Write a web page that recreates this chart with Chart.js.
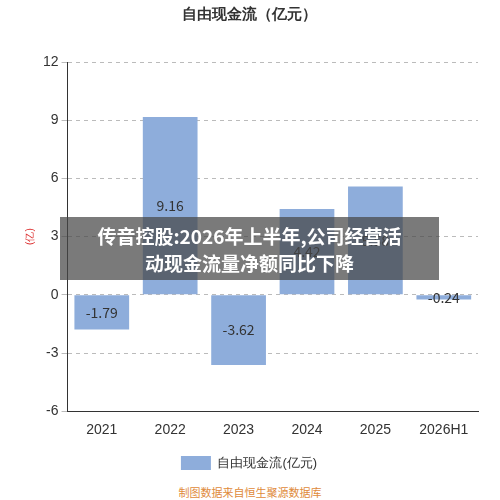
<!DOCTYPE html>
<html><head><meta charset="utf-8">
<script src="https://cdn.jsdelivr.net/npm/chart.js@4"></script>
<style>
body{margin:0;width:500px;height:500px;position:relative;font-family:"Noto Sans CJK SC",sans-serif;background:#fff}
#wrap{position:absolute;left:0;top:0;width:500px;height:480px}
#banner{position:absolute;left:60px;top:217px;width:379px;height:63px;background:rgba(70,70,70,0.72);color:#fff;font-weight:bold;font-size:19px;line-height:27px;text-align:center;padding-top:5px;box-sizing:border-box}
#src{position:absolute;left:0;width:500px;top:484px;text-align:center;font-size:11px;color:#e08a3a}
</style></head><body>
<div id="wrap"><canvas id="c" width="500" height="480"></canvas></div>
<div id="banner">传音控股:2026年上半年,公司经营活<br>动现金流量净额同比下降</div>
<div id="src">制图数据来自恒生聚源数据库</div>
<script>
let labels=['2021','2022','2023','2024','2025','2026H1'];
let values=[-1.79,9.16,-3.62,4.42,5.58,-0.24];
let ticks=[-6,-3,0,3,6,9,12];

const valueLabels={id:'vl',afterDatasetsDraw(chart){
  const ctx=chart.ctx;
  chart.getDatasetMeta(0).data.forEach((b,i)=>{
    ctx.save();ctx.font='14px "Noto Sans CJK SC"';ctx.fillStyle='#333';ctx.textAlign='center';ctx.textBaseline='middle';
    ctx.fillText(values[i].toFixed(2),b.x,(b.y+b.base)/2);ctx.restore();
  });
}};

new Chart(document.getElementById('c'),{
  type:'bar',
  data:{labels:labels,datasets:[{label:'自由现金流(亿元)',data:values,backgroundColor:'#8eaddb',barPercentage:0.8,categoryPercentage:1}]},
  options:{
    responsive:false,animation:false,devicePixelRatio:1,
    layout:{padding:{left:20,right:22,top:0,bottom:0}},
    plugins:{
      title:{display:true,text:'自由现金流（亿元）',font:{size:15,weight:'bold'},color:'#333',padding:{top:6,bottom:38}},
      legend:{position:'bottom',labels:{boxWidth:30,boxHeight:14,font:{size:13},color:'#333',padding:14}}
    },
    scales:{
      x:{grid:{display:false},border:{color:'#333'},ticks:{font:{size:14},color:'#333'}},
      y:{min:-6,max:12,afterBuildTicks(ax){ax.ticks=ticks.map(v=>({value:v}));},
        grid:{color:'#bbb',tickLength:6},border:{dash:[4,4],color:'#333'},
        ticks:{font:{size:14},color:'#333'},
        title:{display:true,text:'(亿)',color:'#d33',font:{size:10}}}
    }
  },
  plugins:[valueLabels]
});
</script>
</body></html>
